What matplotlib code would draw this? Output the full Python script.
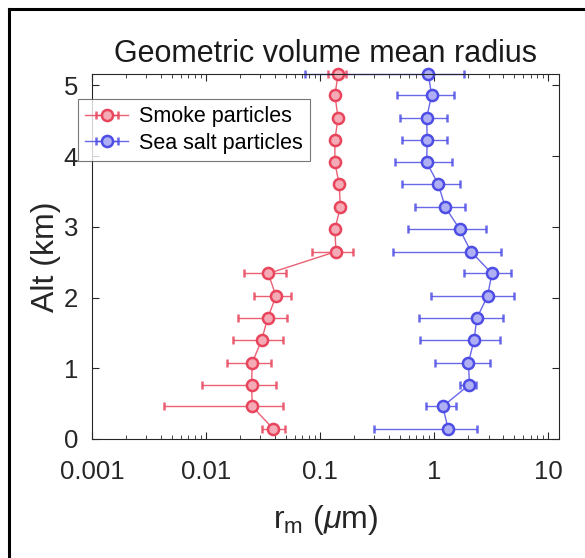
import matplotlib
matplotlib.use("Agg")
import matplotlib.pyplot as plt
from matplotlib.lines import Line2D
import numpy as np

plt.rcParams['font.family'] = ['Liberation Sans', 'DejaVu Sans']
plt.rcParams['mathtext.fontset'] = 'custom'
plt.rcParams['mathtext.rm'] = 'Liberation Sans'
plt.rcParams['mathtext.it'] = 'Liberation Sans:italic'

# altitude levels (km)
alt = [0.14, 0.46, 0.77, 1.08, 1.40, 1.71, 2.02, 2.34, 2.65,
       2.97, 3.28, 3.60, 3.91, 4.23, 4.54, 4.86, 5.16]

# smoke particles: mean radius, lower and upper bounds (um)
smoke_r = [0.039, 0.0255, 0.0251, 0.0255, 0.0308, 0.0348, 0.0411, 0.0352, 0.138,
           0.135, 0.151, 0.147, 0.135, 0.135, 0.144, 0.135, 0.144]
smoke_lo = [0.031, 0.0043, 0.0092, 0.0154, 0.0171, 0.0192, 0.0264, 0.0217, 0.085,
            0.128, 0.143, 0.139, 0.128, 0.128, 0.137, 0.128, 0.117]
smoke_hi = [0.049, 0.0476, 0.041, 0.037, 0.047, 0.0516, 0.0553, 0.0504, 0.193,
            0.142, 0.159, 0.155, 0.142, 0.142, 0.151, 0.142, 0.170]

# sea salt particles
salt_r = [1.33, 1.19, 2.04, 2.0, 2.24, 2.37, 2.94, 3.21, 2.10,
          1.67, 1.25, 1.09, 0.86, 0.87, 0.86, 0.95, 0.89]
salt_lo = [0.30, 0.85, 1.67, 1.02, 0.75, 0.74, 0.935, 1.81, 0.44,
           0.59, 0.68, 0.52, 0.45, 0.52, 0.50, 0.47, 0.074]
salt_hi = [2.4, 1.54, 2.33, 3.06, 3.79, 4.0, 4.97, 4.71, 3.85,
           2.86, 1.87, 1.69, 1.43, 1.29, 1.29, 1.48, 1.81]

red = (0.91, 0.27, 0.36)
blue = (0.30, 0.30, 0.90)

fig = plt.figure(figsize=(5.85, 5.58), dpi=100)
ax = fig.add_axes([0.157, 0.2133, 0.799, 0.654])

def draw(r, lo, hi, col, label):
    r = np.array(r); lo = np.array(lo); hi = np.array(hi)
    err = [r - lo, hi - r]
    face = tuple(0.45 * c + 0.55 for c in col)
    line_col = col + (0.85,)
    return ax.errorbar(r, alt, xerr=err, color=line_col, lw=1.0,
                       marker='o', ms=8, mfc=face, mec=col, mew=1.8,
                       capsize=3, elinewidth=1.0, capthick=1.5, label=label,
                       clip_on=False)

draw(smoke_r, smoke_lo, smoke_hi, red, 'Smoke particles')
draw(salt_r, salt_lo, salt_hi, blue, 'Sea salt particles')

ax.set_xscale('log')
ax.set_xlim(0.001, 12.5)
ax.set_ylim(0, 5.16)
ax.set_xticks([0.001, 0.01, 0.1, 1, 10])
ax.set_xticklabels(['0.001', '0.01', '0.1', '1', '10'])
ax.set_yticks([0, 1, 2, 3, 4, 5])
ax.tick_params(which='both', direction='in', top=True, right=True,
               labelsize=18.5, colors='#262626')
ax.tick_params(axis='x', pad=15)
ax.tick_params(axis='y', pad=10)
ax.tick_params(which='major', length=5, width=0.8)
ax.tick_params(which='minor', length=3, width=0.6)
for s in ax.spines.values():
    s.set_color('#262626')
    s.set_linewidth(0.8)

ax.set_title('Geometric volume mean radius', fontsize=22, color='#1a1a1a', pad=9)
ax.set_ylabel('Alt (km)', fontsize=23, color='#262626', labelpad=2)
ax.set_xlabel(r'r$_\mathrm{m}$ ($\mu$m)', fontsize=23, color='#262626', labelpad=14)

leg = ax.legend(loc='upper left', bbox_to_anchor=(-0.03, 0.932), borderaxespad=0,
                fontsize=15.5, frameon=True, fancybox=False, handlelength=2.0,
                handletextpad=0.5, borderpad=0.35, labelspacing=0.25)
leg.get_frame().set_edgecolor('#555555')
leg.get_frame().set_linewidth(0.8)

# outer frame (left and top edges)
fig.add_artist(Line2D([0.015, 0.015], [0, 0.984], color='black', lw=2.2,
                      transform=fig.transFigure))
fig.add_artist(Line2D([0.015, 1.0], [0.984, 0.984], color='black', lw=2.2,
                      transform=fig.transFigure))

fig.savefig('out.png', dpi=100)
